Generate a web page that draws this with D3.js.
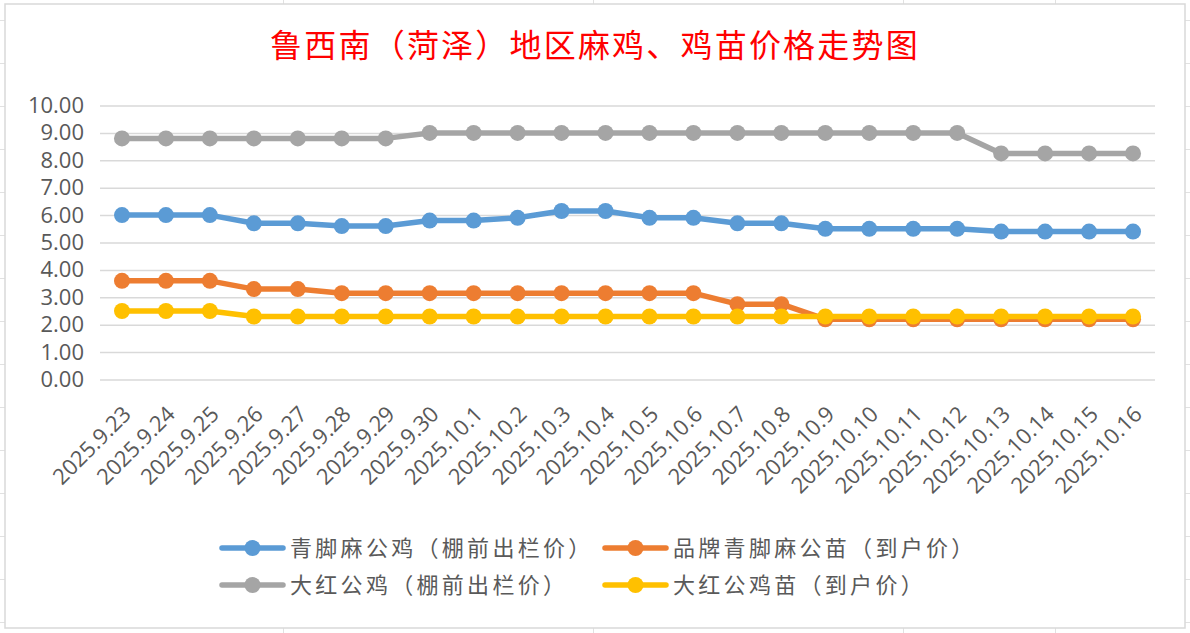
<!DOCTYPE html>
<html>
<head>
<meta charset="utf-8">
<script src="https://cdn.jsdelivr.net/npm/d3@7"></script>
<style>
  body { margin: 0; background: #fff; }
  text { font-family: "Open Sans", "Liberation Sans", sans-serif; fill: #595959; }
  .cjk { font-family: "Noto Sans CJK SC", sans-serif; }
</style>
</head>
<body>
<div id="chart"></div>
<script>
const title = '鲁西南（菏泽）地区麻鸡、鸡苗价格走势图'

const dates = [
  '2025.9.23', '2025.9.24', '2025.9.25', '2025.9.26', '2025.9.27', '2025.9.28',
  '2025.9.29', '2025.9.30', '2025.10.1', '2025.10.2', '2025.10.3', '2025.10.4',
  '2025.10.5', '2025.10.6', '2025.10.7', '2025.10.8', '2025.10.9', '2025.10.10',
  '2025.10.11', '2025.10.12', '2025.10.13', '2025.10.14', '2025.10.15', '2025.10.16'
]

// 青脚麻公鸡（棚前出栏价）
const qingjiaoRooster = [6.0, 6.0, 6.0, 5.7, 5.7, 5.6, 5.6, 5.8, 5.8, 5.9, 6.15, 6.15,
  5.9, 5.9, 5.7, 5.7, 5.5, 5.5, 5.5, 5.5, 5.4, 5.4, 5.4, 5.4]
// 品牌青脚麻公苗（到户价）
const qingjiaoChick = [3.6, 3.6, 3.6, 3.3, 3.3, 3.15, 3.15, 3.15, 3.15, 3.15, 3.15, 3.15,
  3.15, 3.15, 2.75, 2.75, 2.2, 2.2, 2.2, 2.2, 2.2, 2.2, 2.2, 2.2]
// 大红公鸡（棚前出栏价）
const redRooster = [8.8, 8.8, 8.8, 8.8, 8.8, 8.8, 8.8, 9.0, 9.0, 9.0, 9.0, 9.0,
  9.0, 9.0, 9.0, 9.0, 9.0, 9.0, 9.0, 9.0, 8.25, 8.25, 8.25, 8.25]
// 大红公鸡苗（到户价）
const redChick = [2.5, 2.5, 2.5, 2.3, 2.3, 2.3, 2.3, 2.3, 2.3, 2.3, 2.3, 2.3,
  2.3, 2.3, 2.3, 2.3, 2.3, 2.3, 2.3, 2.3, 2.3, 2.3, 2.3, 2.3]

const seriesNames = ['青脚麻公鸡（棚前出栏价）', '品牌青脚麻公苗（到户价）', '大红公鸡（棚前出栏价）', '大红公鸡苗（到户价）']
const seriesColors = ['#5B9BD5', '#ED7D31', '#A5A5A5', '#FFC000']
const yTicks = [0, 1, 2, 3, 4, 5, 6, 7, 8, 9, 10]

const width = 1190, height = 633
const plot = { left: 100, right: 1155, top: 105.5, bottom: 379.5 }

const series = [
  { name: seriesNames[0], color: seriesColors[0], values: qingjiaoRooster },
  { name: seriesNames[1], color: seriesColors[1], values: qingjiaoChick },
  { name: seriesNames[2], color: seriesColors[2], values: redRooster },
  { name: seriesNames[3], color: seriesColors[3], values: redChick }
]

const svg = d3.select('#chart').append('svg')
  .attr('width', width)
  .attr('height', height)

// spreadsheet cells behind the chart
const cells = svg.append('g').attr('stroke', '#E1E1E1').attr('stroke-width', 1)
cells.selectAll('line.row')
  .data(d3.range(20, height, 43))
  .enter()
  .append('line')
  .attr('x1', 0).attr('x2', width)
  .attr('y1', d => d + 0.5).attr('y2', d => d + 0.5)
cells.selectAll('line.col')
  .data([283, 593, 903, 1055])
  .enter()
  .append('line')
  .attr('x1', d => d + 0.5).attr('x2', d => d + 0.5)
  .attr('y1', 0).attr('y2', height)

svg.append('rect')
  .attr('x', 5).attr('y', 4)
  .attr('width', 1180).attr('height', 624)
  .attr('fill', '#fff')
  .attr('stroke', '#D9D9D9')
  .attr('stroke-width', 1.5)

svg.append('text')
  .attr('class', 'cjk')
  .attr('x', width / 2)
  .attr('y', 57)
  .attr('text-anchor', 'middle')
  .attr('font-size', 32)
  .attr('letter-spacing', 2.2)
  .style('fill', '#FF0000')
  .text(title)

const x = d3.scalePoint().domain(dates).range([plot.left, plot.right]).padding(0.5)
const y = d3.scaleLinear().domain([0, 10]).range([plot.bottom, plot.top])

const yAxis = d3.axisLeft(y)
  .tickValues(yTicks)
  .tickSize(-(plot.right - plot.left))
  .tickPadding(16)
  .tickFormat(d3.format('.2f'))

svg.append('g')
  .attr('transform', `translate(${plot.left},0)`)
  .call(yAxis)
  .call(g => g.select('.domain').remove())
  .call(g => g.selectAll('.tick line').attr('stroke', '#D9D9D9').attr('stroke-width', 1.5))
  .call(g => g.selectAll('.tick text').attr('font-size', 22).attr('font-family', null))

const xAxis = d3.axisBottom(x).tickSize(0)

svg.append('g')
  .attr('transform', `translate(0,${plot.bottom})`)
  .call(xAxis)
  .call(g => g.select('.domain').remove())
  .call(g => g.selectAll('.tick text')
    .attr('font-size', 22)
    .attr('font-family', null)
    .attr('x', 0).attr('y', 0).attr('dy', 0)
    .attr('text-anchor', 'end')
    .attr('transform', 'translate(10,36) rotate(-45)'))

const line = d3.line()
  .x((d, i) => x(dates[i]))
  .y(d => y(d))

const lines = svg.append('g')
series.forEach(s => {
  const g = lines.append('g')
  g.append('path')
    .attr('d', line(s.values))
    .attr('fill', 'none')
    .attr('stroke', s.color)
    .attr('stroke-width', 5.5)
    .attr('stroke-linejoin', 'round')
  g.selectAll('circle')
    .data(s.values)
    .enter()
    .append('circle')
    .attr('cx', (d, i) => x(dates[i]))
    .attr('cy', d => y(d))
    .attr('r', 8)
    .attr('fill', s.color)
})

// legend, two columns by two rows
const legendPos = [[222, 548], [605, 548], [222, 585], [605, 585]]
const legend = svg.append('g')
series.forEach((s, i) => {
  const [lx, ly] = legendPos[i]
  const item = legend.append('g').attr('transform', `translate(${lx},${ly})`)
  item.append('line')
    .attr('x1', 0).attr('x2', 61)
    .attr('y1', 0).attr('y2', 0)
    .attr('stroke', s.color)
    .attr('stroke-width', 5.5)
    .attr('stroke-linecap', 'round')
  item.append('circle')
    .attr('cx', 30.5).attr('cy', 0).attr('r', 8)
    .attr('fill', s.color)
  item.append('text')
    .attr('class', 'cjk')
    .attr('x', 68).attr('y', 0)
    .attr('dy', '0.35em')
    .attr('font-size', 22)
    .attr('letter-spacing', 3.3)
    .text(s.name)
})
</script>
</body>
</html>
